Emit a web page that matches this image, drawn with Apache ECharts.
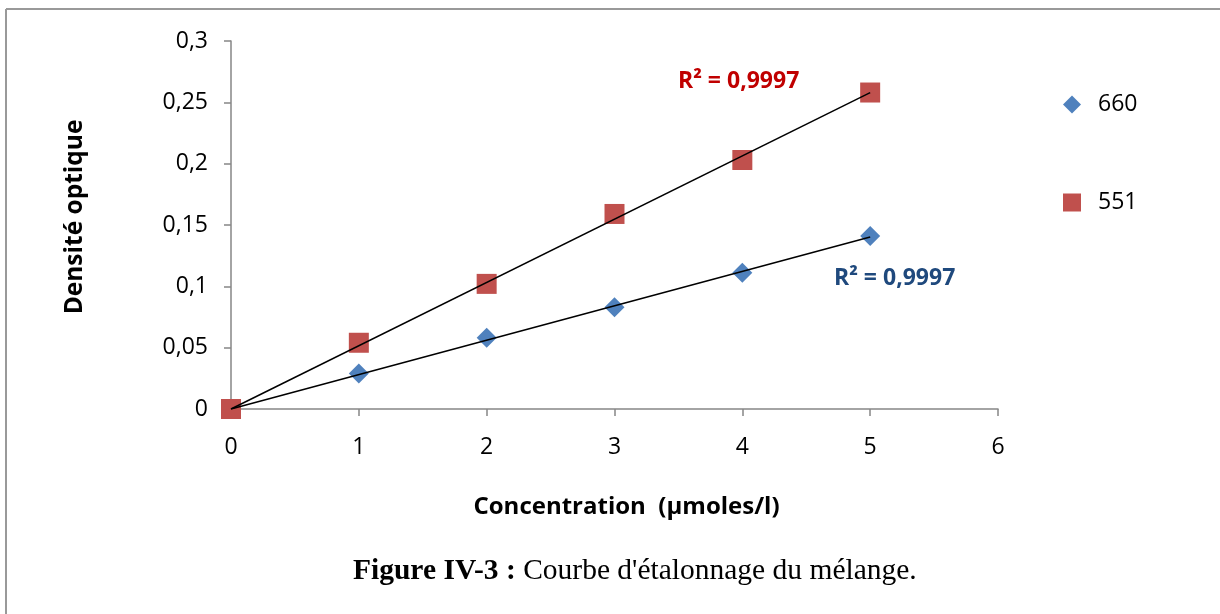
<!DOCTYPE html>
<html>
<head>
<meta charset="utf-8">
<script src="https://cdn.jsdelivr.net/npm/echarts@6/dist/echarts.min.js"></script>
<style>
html,body{margin:0;padding:0;background:#fff;}
#chart{width:1220px;height:614px;}
</style>
</head>
<body>
<div id="chart"></div>
<script>
// Data
const concentrations = [0, 1, 2, 3, 4, 5];
const od660 = [0, 0.029, 0.058, 0.083, 0.111, 0.141];
const od551 = [0, 0.054, 0.102, 0.159, 0.203, 0.258];
const seriesNames = ['660', '551'];
const r2Labels = ['R² = 0,9997', 'R² = 0,9997'];
const yTicks = [0, 0.05, 0.1, 0.15, 0.2, 0.25, 0.3];
const xTicks = [0, 1, 2, 3, 4, 5, 6];

// linear trendline through origin (least squares)
function slopeThroughOrigin(xs, ys) {
  let sxy = 0, sxx = 0;
  for (let i = 0; i < xs.length; i++) { sxy += xs[i] * ys[i]; sxx += xs[i] * xs[i]; }
  return sxy / sxx;
}
const s660 = slopeThroughOrigin(concentrations, od660);
const s551 = slopeThroughOrigin(concentrations, od551);
const xEnd = concentrations[concentrations.length - 1];

const chart = echarts.init(document.getElementById('chart'), null, {renderer: 'canvas'});
const font = '"Open Sans", sans-serif';

const option = {
  animation: false,
  backgroundColor: '#ffffff',
  grid: {left: 231, top: 41, right: 222, bottom: 205, containLabel: false},
  legend: {
    data: [{name: seriesNames[0], icon: 'diamond'}, {name: seriesNames[1], icon: 'rect'}],
    orient: 'vertical',
    left: 1058,
    top: 88,
    itemWidth: 18,
    itemHeight: 18,
    itemGap: 75,
    textStyle: {fontFamily: font, fontSize: 23, color: '#000', padding: [0, 0, 0, 12]}
  },
  xAxis: {
    type: 'value',
    min: xTicks[0],
    max: xTicks[xTicks.length - 1],
    interval: 1,
    name: 'Concentration  (µmoles/l)',
    nameLocation: 'middle',
    nameGap: 86,
    nameTextStyle: {fontFamily: font, fontSize: 24, fontWeight: 'bold', color: '#000', padding: [0, 0, 0, 24]},
    axisLine: {show: true, onZero: false, lineStyle: {color: '#868686', width: 1.5}},
    axisTick: {show: true, inside: false, length: 7, lineStyle: {color: '#868686', width: 1.5}},
    axisLabel: {fontFamily: font, fontSize: 23, color: '#000', margin: 27},
    splitLine: {show: false}
  },
  yAxis: {
    type: 'value',
    min: yTicks[0],
    max: yTicks[yTicks.length - 1],
    interval: 0.05,
    name: 'Densité optique',
    nameLocation: 'middle',
    nameRotate: 90,
    nameGap: 143,
    nameTextStyle: {fontFamily: font, fontSize: 24.5, fontWeight: 'bold', color: '#000', padding: [0, 0, 0, 16]},
    axisLine: {show: true, lineStyle: {color: '#868686', width: 1.5}},
    axisTick: {show: true, inside: false, length: 7, lineStyle: {color: '#868686', width: 1.5}},
    axisLabel: {
      fontFamily: font, fontSize: 23, color: '#000', margin: 23,
      formatter: v => String(+v.toFixed(2)).replace('.', ',')
    },
    splitLine: {show: false}
  },
  series: [
    {
      name: 'trend660', type: 'line', silent: true, symbol: 'none', z: 3,
      lineStyle: {color: '#000', width: 1.5},
      data: [[0, 0], [xEnd, s660 * xEnd]]
    },
    {
      name: 'trend551', type: 'line', silent: true, symbol: 'none', z: 3,
      lineStyle: {color: '#000', width: 1.5},
      data: [[0, 0], [xEnd, s551 * xEnd]]
    },
    {
      name: seriesNames[0], type: 'scatter', symbol: 'diamond', symbolSize: 20, z: 2,
      itemStyle: {color: '#4F81BD', opacity: 1},
      data: concentrations.map((x, i) => [x, od660[i]])
    },
    {
      name: seriesNames[1], type: 'scatter', symbol: 'rect', symbolSize: 20, z: 2,
      itemStyle: {color: '#C0504D', opacity: 1},
      data: concentrations.map((x, i) => [x, od551[i]])
    }
  ],
  graphic: [
    {type: 'line', shape: {x1: 6, y1: 9, x2: 1220, y2: 9}, style: {stroke: '#999', lineWidth: 2}},
    {type: 'line', shape: {x1: 6, y1: 9, x2: 6, y2: 614}, style: {stroke: '#999', lineWidth: 2}},
    {type: 'text', left: 678, top: 70,
      style: {text: r2Labels[1], fill: '#C00000', font: 'bold 23px "Open Sans", sans-serif'}},
    {type: 'text', left: 834, top: 267,
      style: {text: r2Labels[0], fill: '#1F497D', font: 'bold 23px "Open Sans", sans-serif'}},
    {type: 'text', left: 353, top: 556,
      style: {
        text: '{b|Figure IV-3 :\u00a0}{n|Courbe d\'étalonnage du mélange.}',
        rich: {
          b: {fontFamily: '"Liberation Serif", serif', fontWeight: 'bold', fontSize: 29.5, fill: '#000'},
          n: {fontFamily: '"Liberation Serif", serif', fontSize: 29.5, fill: '#000'}
        }
      }}
  ]
};
chart.setOption(option);
</script>
</body>
</html>
